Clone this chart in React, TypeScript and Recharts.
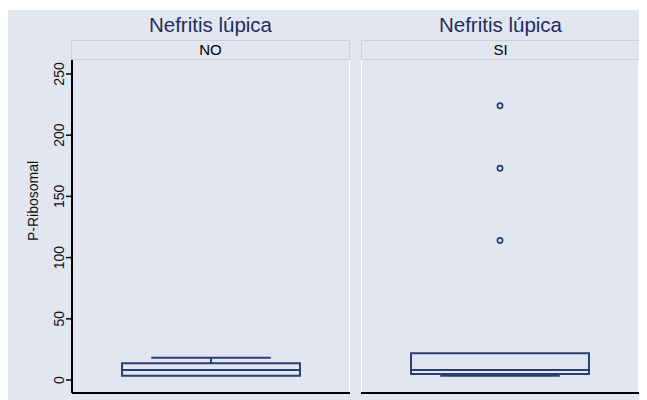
import React from 'react';
import {
  ComposedChart, XAxis, YAxis, Scatter, ReferenceArea, ReferenceLine,
} from 'recharts';

// ---- data ----
const facetTitle = 'Nefritis lúpica';
const groups = ['NO', 'SI'];
const whiskerLow = [3.5, 3.5];
const q1 = [3.5, 4.9];
const median = [8.2, 8.2];
const q3 = [13.6, 21.8];
const whiskerHigh = [18.2, 21.8];
const outliers: number[][] = [[], [114, 173, 224]];
const yTicks = [0, 50, 100, 150, 200, 250];
const yLabel = 'P-Ribosomal';

// ---- style ----
const BG = '#e2e6f0';
const NAVY = '#283f73';
const FONT = '"Liberation Sans", Arial, Helvetica, sans-serif';
const Y_DOMAIN: [number, number] = [-10.6, 261.4];
const BOX_L = 0.18, BOX_R = 0.82, CAP_L = 0.285, CAP_R = 0.715, MID = 0.5;

const YTick = (props: any) => {
  const { x, y, payload } = props;
  return (
    <text x={x} y={y} transform={`rotate(-90, ${x}, ${y})`} textAnchor="middle"
      fontSize={14} fontFamily={FONT} fill="#111">{payload.value}</text>
  );
};

const YLabel = () => (
  <text x={30} y={141} transform="rotate(-90, 30, 141)" textAnchor="middle"
    fontSize={14} fontFamily={FONT} fill="#111">{yLabel}</text>
);

const Panel = ({ i, showY, width }: { i: number; showY: boolean; width: number }) => {
  const pts = outliers[i].map((v) => ({ x: MID, y: v }));
  const line = { stroke: NAVY, strokeWidth: 2, ifOverflow: 'visible' as const };
  return (
    <ComposedChart width={width} height={337} margin={{ top: 0, right: 0, bottom: 0, left: 0 }}>
      <XAxis type="number" dataKey="x" domain={[0, 1]} allowDataOverflow tick={false} tickLine={false}
        axisLine={{ stroke: '#000', strokeWidth: 2 }} height={4} />
      <YAxis type="number" dataKey="y" domain={Y_DOMAIN} allowDataOverflow ticks={yTicks}
        hide={!showY} width={64} tick={<YTick />} tickSize={6} tickMargin={2}
        tickLine={{ stroke: '#000', strokeWidth: 1.5 }}
        axisLine={{ stroke: '#000', strokeWidth: 2 }}
        label={showY ? { content: <YLabel /> } : undefined} />
      {!showY && <ReferenceLine x={0} stroke="#ffffff" strokeWidth={2} ifOverflow="visible" />}
      <ReferenceLine x={1} stroke="#ffffff" strokeWidth={2} ifOverflow="visible" />
      <ReferenceArea x1={BOX_L} x2={BOX_R} y1={q1[i]} y2={q3[i]} fill="none" fillOpacity={0}
        stroke={NAVY} strokeWidth={2} ifOverflow="visible" />
      <ReferenceLine segment={[{ x: BOX_L, y: median[i] }, { x: BOX_R, y: median[i] }]} {...line} />
      {whiskerHigh[i] > q3[i] && (
        <ReferenceLine segment={[{ x: MID, y: q3[i] }, { x: MID, y: whiskerHigh[i] }]} {...line} />
      )}
      {whiskerHigh[i] > q3[i] && (
        <ReferenceLine segment={[{ x: CAP_L, y: whiskerHigh[i] }, { x: CAP_R, y: whiskerHigh[i] }]} {...line} />
      )}
      {whiskerLow[i] < q1[i] && (
        <ReferenceLine segment={[{ x: MID, y: whiskerLow[i] }, { x: MID, y: q1[i] }]} {...line} />
      )}
      {whiskerLow[i] < q1[i] && (
        <ReferenceLine segment={[{ x: CAP_L, y: whiskerLow[i] }, { x: CAP_R, y: whiskerLow[i] }]} {...line} />
      )}
      <Scatter data={pts} isAnimationActive={false}
        shape={(p: any) => <circle cx={p.cx} cy={p.cy} r={2.6} fill="none" stroke={NAVY} strokeWidth={1.7} />} />
    </ComposedChart>
  );
};

const panels = [
  { left: 0, width: 342, stripLeft: 63, stripWidth: 279 },
  { left: 353, width: 278, stripLeft: 353, stripWidth: 279 },
];

export default function App() {
  return (
    <div style={{ position: 'relative', width: 639, height: 392, fontFamily: FONT }}>
      <div style={{ position: 'absolute', left: 0, top: 2, width: 639, height: 390, background: BG }} />
      {groups.map((g, i) => (
        <React.Fragment key={g}>
          <div style={{
            position: 'absolute', left: panels[i].stripLeft, top: 5, width: panels[i].stripWidth,
            height: 24, lineHeight: '24px', textAlign: 'center', fontSize: 20.5, color: '#1f2d5c',
          }}>{facetTitle}</div>
          <div style={{
            position: 'absolute', left: panels[i].stripLeft, top: 32, width: panels[i].stripWidth,
            height: 20, boxSizing: 'border-box', border: '1.5px solid #cbd0db', textAlign: 'center',
            fontSize: 15, lineHeight: '17px', color: '#000',
          }}>{g}</div>
          <div style={{ position: 'absolute', left: panels[i].left, top: 52 }}>
            <Panel i={i} showY={i === 0} width={panels[i].width} />
          </div>
        </React.Fragment>
      ))}
    </div>
  );
}
